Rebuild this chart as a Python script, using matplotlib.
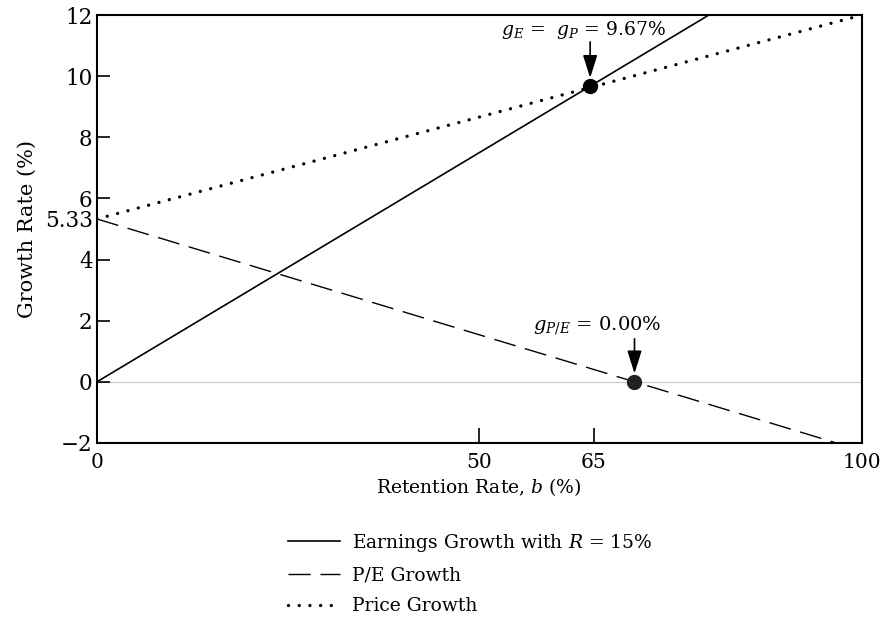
import matplotlib
matplotlib.use("Agg")
import matplotlib.pyplot as plt

# retention rate b (%) vs growth rates (%), read as line endpoints
earnings_b = [0, 80]
earnings_g = [0.0, 12.0]
pe_b = [0, 100]
pe_g = [5.33, -2.25]
price_b = [0, 100]
price_g = [5.33, 12.0]

# marked points
eq_b, eq_g = 64.5, 9.67
pe_zero_b, pe_zero_g = 70.3, 0.0

x_ticks = [0, 50, 65, 100]
y_ticks = [-2, 0, 2, 4, 5.33, 6, 8, 10, 12]
y_tick_labels = ["\u22122", "0", "2", "4", "5.33", "6", "8", "10", "12"]

plt.rcParams["font.family"] = "DejaVu Serif"
plt.rcParams["mathtext.fontset"] = "dejavuserif"
plt.rcParams["font.size"] = 14

fig = plt.figure(figsize=(8.81, 6.31), dpi=100)
ax = fig.add_axes([0.110, 0.298, 0.868, 0.678])

ax.axhline(0, color="#c8c8c8", lw=0.8, zorder=1)

ax.plot(earnings_b, earnings_g, color="black", lw=1.2, label="Earnings Growth with $R$ = 15%")
ax.plot(pe_b, pe_g, color="black", lw=1.0, dashes=(16, 7), label="P/E Growth")
ax.plot(price_b, price_g, color="black", lw=2.4, linestyle=(0, (0.01, 3.2)),
        dash_capstyle="round", label="Price Growth")

ax.plot([eq_b], [eq_g], "o", color="black", ms=10, zorder=5)
ax.plot([pe_zero_b], [pe_zero_g], "o", color="#222222", ms=10, zorder=5)

# vertical arrows down onto the marked points, labels sit above them
arrow = dict(arrowstyle="-|>,head_length=0.7,head_width=0.22", color="black",
             lw=1.2, mutation_scale=20, shrinkA=0, shrinkB=6)
ax.annotate("", xy=(eq_b, eq_g), xytext=(0, 32), textcoords="offset points", arrowprops=arrow)
ax.annotate(r"$g_E$ =  $g_P$ = 9.67%", xy=(eq_b, eq_g), xytext=(-5, 33),
            textcoords="offset points", ha="center", va="bottom", fontsize=13.5)
ax.annotate("", xy=(pe_zero_b, pe_zero_g), xytext=(0, 31), textcoords="offset points", arrowprops=arrow)
ax.annotate(r"$g_{P/E}$ = 0.00%", xy=(pe_zero_b, pe_zero_g), xytext=(-27, 32),
            textcoords="offset points", ha="center", va="bottom", fontsize=14)

ax.set_xlim(0, 100)
ax.set_ylim(-2, 12)
ax.set_xticks(x_ticks)
ax.set_yticks(y_ticks)
ax.set_yticklabels(y_tick_labels)
ax.tick_params(axis="x", direction="in", length=11, width=1.2, pad=7, labelsize=14.5)
ax.tick_params(axis="y", direction="in", length=9, width=1.2, pad=3, labelsize=15.5)
for t in ax.yaxis.get_major_ticks():
    if t.label1.get_text() == "5.33":
        t.tick1line.set_visible(False)

for s in ax.spines.values():
    s.set_linewidth(1.5)

ax.set_xlabel("Retention Rate, $b$ (%)", labelpad=3, fontsize=13.5)
ax.set_ylabel("Growth Rate (%)", labelpad=6, fontsize=15)

ax.legend(loc="upper left", bbox_to_anchor=(0.24, -0.19), frameon=False, fontsize=13.5,
          handlelength=2.8, handletextpad=0.6, labelspacing=0.68, borderaxespad=0)

fig.savefig("out.png", dpi=100)
